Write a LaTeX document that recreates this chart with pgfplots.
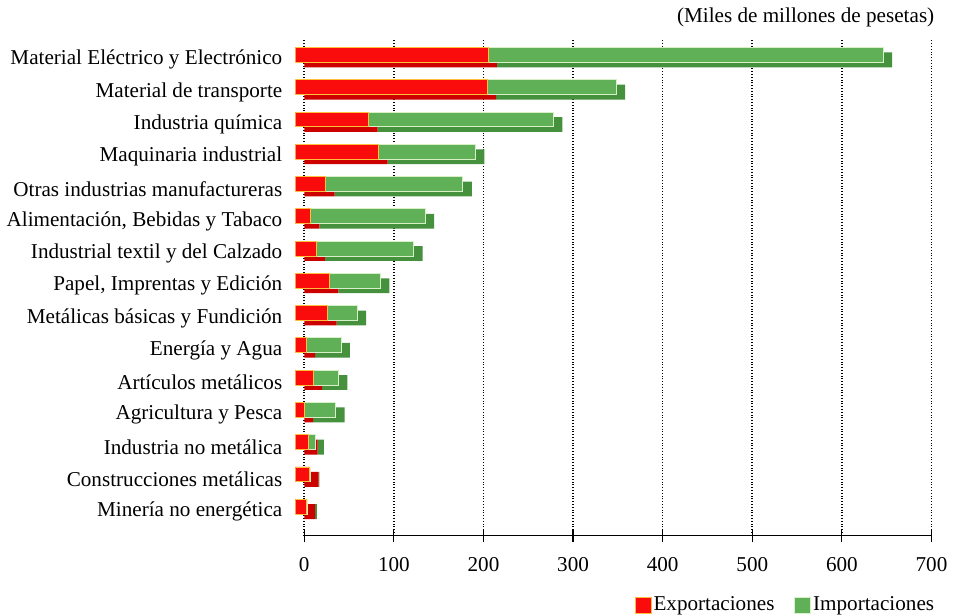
\documentclass[border=0pt]{standalone}
\usepackage{fontspec}
\setmainfont{Liberation Serif}
\usepackage{pgfplots}
\usepackage{pgfplotstable}
\pgfplotsset{compat=1.18}

\definecolor{expred}{RGB}{250,12,12}
\definecolor{expdark}{RGB}{205,0,0}
\definecolor{impgreen}{RGB}{95,176,86}
\definecolor{impdark}{RGB}{70,145,62}
\definecolor{expedge}{RGB}{255,190,60}
\definecolor{impedge}{RGB}{215,240,200}

% y = position from the bottom, exp = Exportaciones, imp = Importaciones
\pgfplotstableread{
y exp imp
15 215 441
14 214 144
13 82 206
12 93 108
11 34 153
10 17 128
9 23 109
8 38 57
7 36 33
6 12 39
5 20 28
4 10 35
3 15 7
2 16 1
1 12 2
}\datatable

\pgfplotsset{
  base/.style={
    scale only axis, width=314.5pt, height=248.5pt,
    xmin=0, xmax=700, ymin=0.26, ymax=15.62,
    xbar stacked, bar width=0.46,
    font=\fontsize{10.6}{12.5}\selectfont,
  },
  sq/.style={legend image code/.code={\fill[##1] (0pt,-4pt) rectangle (8pt,4pt);}},
}

\begin{document}
\begin{tikzpicture}
% back faces (depth)
\begin{axis}[base,
    clip=false,
    axis lines*=left,
    y axis line style={draw=none},
    ytick style={draw=none},
    x axis line style={black, line width=0.6pt},
    xtick={0,100,...,700},
    tick align=center, major tick length=7pt,
    xtick style={black, line width=0.6pt},
    xmajorgrids, grid style={black, densely dotted, line width=0.8pt},
    /pgf/number format/assume math mode=true,
    ytick={1,...,15},
    yticklabels={Minería no energética, Construcciones metálicas, Industria no metálica,
      Agricultura y Pesca, Artículos metálicos, Energía y Agua,
      Metálicas básicas y Fundición, {Papel, Imprentas y Edición},
      Industrial textil y del Calzado, {Alimentación, Bebidas y Tabaco},
      Otras industrias manufactureras, Maquinaria industrial, Industria química,
      Material de transporte, Material Eléctrico y Electrónico},
    yticklabel style={xshift=-4pt},
    xticklabel style={yshift=-4pt},
  ]
  \addplot[fill=expdark, draw=none] table[x=exp, y=y] {\datatable};
  \addplot[fill=impdark, draw=none] table[x=imp, y=y] {\datatable};
  \node[anchor=south east, inner sep=0pt] at (rel axis cs:1.005,1) [yshift=6.5pt]
    {(Miles de millones de pesetas)};
  \path (rel axis cs:-0.4817,-0.161) rectangle (rel axis cs:1.035,1.0805);
\end{axis}
% front faces
\begin{axis}[base, hide axis, xshift=-4.5pt, yshift=2.5pt,
    legend style={at={(1,0)}, anchor=north east, xshift=7pt, yshift=-32pt,
      draw=none, fill=none, inner sep=0pt, legend columns=2,
      nodes={inner sep=1pt},
      /tikz/every even column/.append style={column sep=9pt}},
  ]
  \addplot[fill=expred, draw=expedge, line width=0.4pt, sq] table[x=exp, y=y] {\datatable};
  \addlegendentry{Exportaciones}
  \addplot[fill=impgreen, draw=impedge, line width=0.4pt, sq] table[x=imp, y=y] {\datatable};
  \addlegendentry{Importaciones}
\end{axis}
\end{tikzpicture}
\end{document}
